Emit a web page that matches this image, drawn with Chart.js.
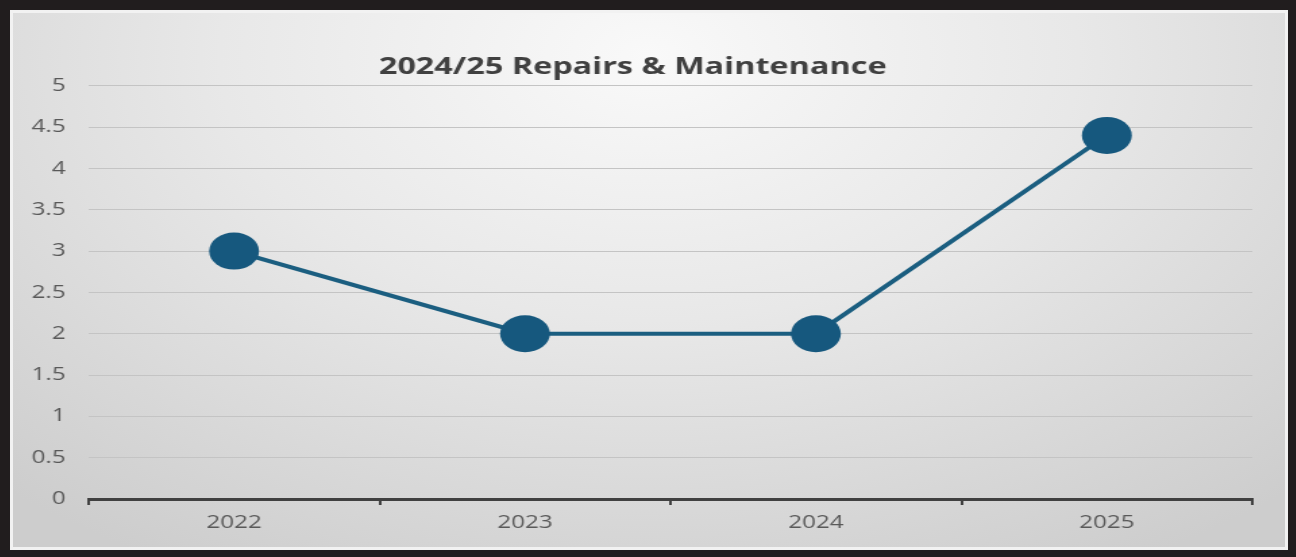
<!DOCTYPE html>
<html>
<head>
<meta charset="utf-8">
<script src="https://cdn.jsdelivr.net/npm/chart.js@4.4.1/dist/chart.umd.min.js"></script>
<style>
    html, body { margin: 0; padding: 0; }
    body { width: 1296px; height: 557px; background: #211d1e; position: relative; overflow: hidden; }
    #frame {
        position: absolute; left: 10px; top: 10px;
        width: 1272px; height: 534px;
        border: 3px solid #f2f2f2;
        background: radial-gradient(ellipse 75% 110% at 50% 8%, #f9f9f9 0%, #e8e8e8 45%, #cdcdcd 100%);
        overflow: hidden;
    }
    /* the chart is drawn narrow and widened, so text and markers come out broad */
    #mycanvas { display: block; transform-origin: 0 0; transform: scaleX(1.35); }
</style>
</head>
<body>
<div id="frame"><canvas id="mycanvas" width="942" height="534" style="width:942px;height:534px"></canvas></div>
<script>
var years = ['2022', '2023', '2024', '2025'];
var repairs = [3, 2, 2, 4.4];
var yMin = 0;
var yMax = 5;
var yStep = 0.5;

var chartdata = {
    labels: years,
    datasets: [
        {
            label: "Repairs & Maintenance",
            fill: false,
            lineTension: 0,
            borderColor: "rgba(27, 94, 128, 1)",
            backgroundColor: "rgba(22, 88, 126, 1)",
            borderWidth: 4,
            pointRadius: 18.5,
            pointHoverRadius: 18.5,
            pointBorderWidth: 0,
            pointBackgroundColor: "rgba(22, 88, 126, 1)",
            data: repairs
        }
    ]
};

var ctx = document.getElementById('mycanvas');
var LineGraph = new Chart(ctx, {
    type: 'line',
    data: chartdata,
    options: {
        responsive: false,
        animation: false,
        devicePixelRatio: 1,
        layout: { padding: { left: 0, right: 24, top: 0, bottom: 0 } },
        plugins: {
            legend: { display: false },
            tooltip: { enabled: false },
            title: {
                display: true,
                text: '2024/25 Repairs & Maintenance',
                color: '#404040',
                font: { family: 'Open Sans', size: 24, weight: 'bold', lineHeight: 1.2 },
                padding: { top: 40, bottom: 4 }
            }
        },
        scales: {
            x: {
                offset: true,
                grid: {
                    offset: true,
                    drawOnChartArea: false,
                    drawTicks: true,
                    tickLength: 6,
                    color: '#404040',
                    lineWidth: 2
                },
                border: { display: true, color: '#404040', width: 3 },
                ticks: {
                    color: '#595959',
                    padding: 7,
                    font: { family: 'Open Sans', size: 18 }
                },
                afterFit: function(scale) { scale.height = 48; }
            },
            y: {
                min: yMin,
                max: yMax,
                grid: { color: '#c4c4c4', lineWidth: 1, drawTicks: false },
                border: { display: false },
                ticks: {
                    stepSize: yStep,
                    color: '#595959',
                    padding: 17,
                    font: { family: 'Open Sans', size: 18 },
                    callback: function(value) { return String(Math.round(value * 10) / 10); }
                },
                afterFit: function(scale) { scale.width = 56; }
            }
        }
    }
});
</script>
</body>
</html>
